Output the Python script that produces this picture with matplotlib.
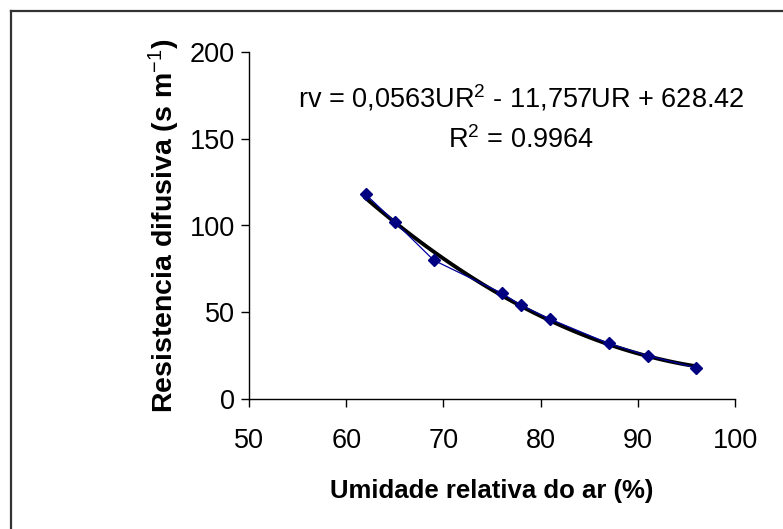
import matplotlib.pyplot as plt
import numpy as np
from matplotlib.lines import Line2D

plt.rcParams["font.family"] = ["Liberation Sans", "DejaVu Sans"]
plt.rcParams["mathtext.fontset"] = "custom"
plt.rcParams["mathtext.rm"] = "Liberation Sans"
plt.rcParams["mathtext.it"] = "Liberation Sans"
plt.rcParams["mathtext.bf"] = "Liberation Sans:bold"

# values
umidade = [62, 65, 69, 76, 78, 81, 87, 91, 96]
resistencia = [118, 102, 80, 61, 54, 46, 32, 25, 18]
x_ticks = [50, 60, 70, 80, 90, 100]
y_ticks = [0, 50, 100, 150, 200]

eq_text = "rv = 0,0563UR$^{2}$ - 11,757UR + 628.42"
r2_text = "R$^{2}$ = 0.9964"

fig = plt.figure(figsize=(7.83, 5.29), dpi=100)
ax = fig.add_axes([249 / 783, 1 - 399 / 529, (735 - 249) / 783, (399 - 52) / 529])

ax.plot(umidade, resistencia, color="#0000a0", lw=0.9, marker="D",
        markersize=6.5, markerfacecolor="#000080", markeredgecolor="#000080", zorder=3)

# second order trend line fitted to the data
coef = np.polyfit(umidade, resistencia, 2)
xs = np.linspace(min(umidade), max(umidade), 120)
ax.plot(xs, np.polyval(coef, xs), color="black", lw=2.8, zorder=2)

ax.set_xlim(50, 100)
ax.set_ylim(0, 200)
ax.set_xticks(x_ticks)
ax.set_yticks(y_ticks)
ax.tick_params(direction="out", length=6, width=1, labelsize=19.5, pad=4, color="black")
ax.tick_params(axis="x", pad=15)
for s in ["top", "right"]:
    ax.spines[s].set_visible(False)
for s in ["left", "bottom"]:
    ax.spines[s].set_linewidth(1)

ax.set_xlabel("Umidade relativa do ar (%)", fontsize=18.5, fontweight="bold", labelpad=18)
ax.set_ylabel("Resistencia difusiva (s m$^{-1}$)", fontsize=20.5, fontweight="bold", labelpad=6)

fig.text(521 / 783, 1 - 98 / 529, eq_text, fontsize=19.5, ha="center", va="center")
fig.text(521 / 783, 1 - 140 / 529, r2_text, fontsize=19.5, ha="center", va="center")

# chart frame (left and top edges only visible)
fig.add_artist(Line2D([11 / 783, 11 / 783], [0, 1 - 10.5 / 529], transform=fig.transFigure,
                      color="#333333", lw=1.6))
fig.add_artist(Line2D([11 / 783, 1], [1 - 10.5 / 529, 1 - 10.5 / 529], transform=fig.transFigure,
                      color="#333333", lw=1.6))

fig.savefig("out.png", dpi=100)
